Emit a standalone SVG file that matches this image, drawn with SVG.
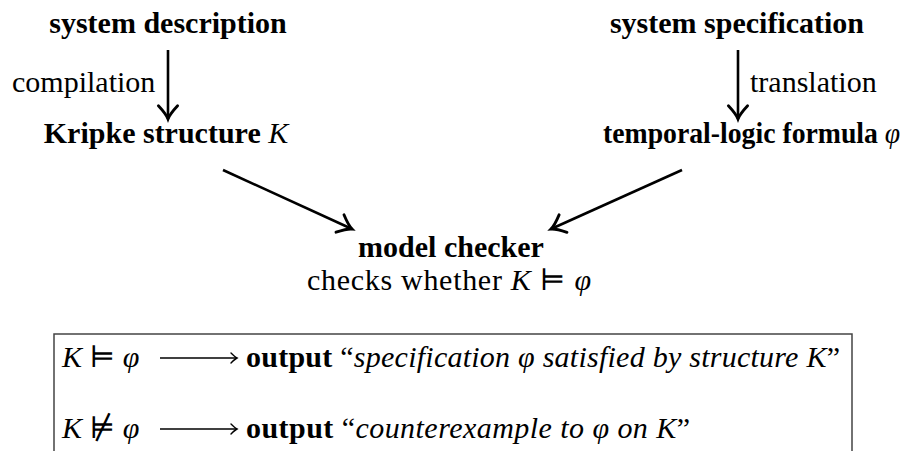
<svg xmlns="http://www.w3.org/2000/svg" width="904" height="451" viewBox="0 0 904 451">
<defs>
<style>
text{font-family:"Liberation Serif","DejaVu Serif",serif;fill:#000;font-size:30px}
.b{font-weight:bold}
.i{font-style:italic}
.c{stroke:#000;stroke-width:2.6;fill:none}
.ar{stroke:#000;stroke-width:1.6;fill:none}
</style>
<marker id="ah" markerUnits="userSpaceOnUse" markerWidth="24" markerHeight="24" viewBox="-14 -10 18 20" refX="0" refY="0" orient="auto">
<path d="M-11,-8 Q-4,-1.5 0,0 Q-4,1.5 -11,8" stroke="#000" stroke-width="2.4" fill="none" stroke-linecap="round"/>
</marker>
<marker id="sh" markerUnits="userSpaceOnUse" markerWidth="16" markerHeight="16" viewBox="-10 -8 12 16" refX="0" refY="0" orient="auto">
<path d="M-6,-5 Q-2,-1 0,0 Q-2,1 -6,5" stroke="#000" stroke-width="1.4" fill="none" stroke-linecap="round"/>
</marker>
</defs>
<rect width="904" height="451" fill="#fff"/>
<g id="connectors">
<line class="c" x1="168" y1="50" x2="168" y2="119" marker-end="url(#ah)"/>
<line class="c" x1="738" y1="50" x2="738" y2="119" marker-end="url(#ah)"/>
<line class="c" x1="223" y1="170" x2="352" y2="229" marker-end="url(#ah)"/>
<line class="c" x1="682" y1="170" x2="551" y2="229" marker-end="url(#ah)"/>
</g>
<g id="system-description"><text class="b" x="168" y="33" text-anchor="middle">system description</text></g>
<g id="compilation"><text x="12" y="92">compilation</text></g>
<g id="kripke"><text class="b" x="166" y="143" text-anchor="middle">Kripke structure <tspan class="i" font-weight="normal">K</tspan></text></g>
<g id="system-specification"><text class="b" x="737" y="33" text-anchor="middle">system specification</text></g>
<g id="translation"><text x="750" y="92">translation</text></g>
<g id="formula"><text class="b" transform="translate(603,143) scale(0.925,1)" x="0" y="0">temporal-logic formula <tspan class="i" font-weight="normal">φ</tspan></text></g>
<g id="model-checker">
<text class="b" x="451" y="257" text-anchor="middle">model checker</text>
<text x="307" y="290" textLength="284">checks whether <tspan class="i">K</tspan> ⊨ <tspan class="i">φ</tspan></text>
</g>
<g id="output-box">
<path d="M54,451 V334 H852 V451" stroke="#444" stroke-width="1.5" fill="none"/>
<text x="62" y="367"><tspan class="i">K</tspan> ⊨ <tspan class="i">φ</tspan></text>
<line class="ar" x1="160" y1="358" x2="237" y2="358" marker-end="url(#sh)"/>
<text x="246" y="367" textLength="594"><tspan class="b">output</tspan> “<tspan class="i">specification φ satisfied by structure K</tspan>”</text>
<text x="62" y="438"><tspan class="i">K</tspan> ⊭ <tspan class="i">φ</tspan></text>
<line class="ar" x1="160" y1="429" x2="237" y2="429" marker-end="url(#sh)"/>
<text x="246" y="438" textLength="444"><tspan class="b">output</tspan> “<tspan class="i">counterexample to φ on K</tspan>”</text>
</g>
</svg>
